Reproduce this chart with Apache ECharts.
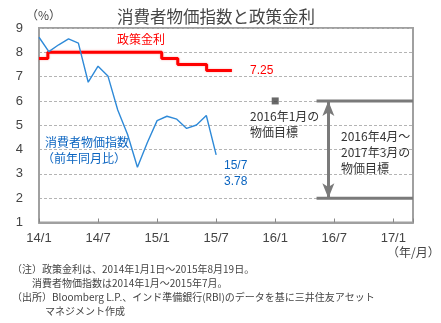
<!DOCTYPE html>
<html>
<head>
<meta charset="utf-8">
<script src="https://cdn.jsdelivr.net/npm/echarts@6/dist/echarts.min.js"></script>
<style>
  html, body { margin: 0; padding: 0; background: #fff; }
  #chart { width: 441px; height: 323px; }
</style>
</head>
<body>
<div id="chart"></div>
<script>
// Month index: 0 = 2014/1, 6 = 2014/7, ... 36 = 2017/1
const tickLabels = ['14/1', '14/7', '15/1', '15/7', '16/1', '16/7', '17/1'];

// India CPI (YoY, %), 2014/1 - 2015/7
const cpiMonths = [0, 1, 2, 3, 4, 5, 6, 7, 8, 9, 10, 11, 12, 13, 14, 15, 16, 17, 18];
const cpiValues = [8.62, 8.03, 8.31, 8.55, 8.38, 6.77, 7.43, 7.03, 5.63, 4.62, 3.27, 4.28, 5.19, 5.37, 5.25, 4.87, 5.01, 5.40, 3.78];

// RBI policy repo rate (%), change dates as month index, 2014/1/1 - 2015/8/19
const rateMonths = [0, 0.9, 12.47, 14.1, 17.03, 19.6];
const rateValues = [7.75, 8.0, 7.75, 7.5, 7.25, 7.25];

// Inflation targets
const targetJan2016 = [24, 6];
const bandMonths = [28.2, 38];
const bandLimits = [2, 6];
const bandArrowMonth = 29.4;

const JP = '"Noto Sans CJK JP", "Noto Sans", sans-serif';
const LAT = '"Liberation Sans", Arial, sans-serif';
const RED = '#ff0000';
const BLUE = '#2f8ad8';
const BLUE_TEXT = '#0a64c0';
const GREY = '#7a7a7a';

function txt(x, y, text, opts) {
  return {
    type: 'text', left: x, top: y, silent: true,
    style: Object.assign({ text: text, fill: '#333', font: '12px ' + JP }, opts || {})
  };
}

const chart = echarts.init(document.getElementById('chart'), null, { renderer: 'canvas' });

chart.setOption({
  animation: false,
  backgroundColor: '#fff',
  grid: {
    left: 39, right: 28, top: 28, bottom: 100.5,
    show: true, borderColor: '#a0a0a0', borderWidth: 2
  },
  title: {
    text: '消費者物価指数と政策金利',
    left: 112, top: 3,
    textStyle: { fontFamily: JP, fontSize: 16.5, fontWeight: 'normal', color: '#444' }
  },
  xAxis: {
    type: 'value', min: 0, max: 38, interval: 6,
    axisLine: { lineStyle: { color: '#a0a0a0', width: 2 } },
    axisTick: { show: true, inside: true, length: 4, lineStyle: { color: '#888' } },
    splitLine: { show: false },
    axisLabel: {
      margin: 9, color: '#444', fontFamily: LAT, fontSize: 13,
      formatter: v => (v % 6 === 0 && tickLabels[v / 6]) ? tickLabels[v / 6] : ''
    }
  },
  yAxis: {
    type: 'value', min: 1, max: 9, interval: 1,
    axisLine: { show: true, lineStyle: { color: '#a0a0a0', width: 2 } },
    axisTick: { show: false },
    splitLine: { show: true, lineStyle: { color: '#b4b4b4', type: [3, 2], width: 1 } },
    axisLabel: { margin: 16, color: '#444', fontFamily: LAT, fontSize: 13 }
  },
  series: [
    {
      name: '政策金利', type: 'line', step: 'end', symbol: 'none',
      data: rateMonths.map((m, i) => [m, rateValues[i]]),
      lineStyle: { color: RED, width: 3, shadowColor: 'rgba(255,80,80,0.5)', shadowBlur: 2 },
      z: 3
    },
    {
      name: '消費者物価指数', type: 'line', symbol: 'none',
      data: cpiMonths.map((m, i) => [m, cpiValues[i]]),
      lineStyle: { color: BLUE, width: 1.4 },
      z: 4
    },
    {
      name: '2016年1月の物価目標', type: 'scatter', symbol: 'rect', symbolSize: 7,
      data: [targetJan2016],
      itemStyle: { color: '#444' },
      z: 5
    },
    {
      name: '上限', type: 'line', symbol: 'none',
      data: bandMonths.map(m => [m, bandLimits[1]]),
      lineStyle: { color: GREY, width: 3 },
      z: 5
    },
    {
      name: '下限', type: 'line', symbol: 'none',
      data: bandMonths.map(m => [m, bandLimits[0]]),
      lineStyle: { color: GREY, width: 3 },
      markLine: {
        silent: true,
        symbol: ['arrow', 'arrow'],
        symbolSize: [9, 15],
        label: { show: false },
        lineStyle: { color: GREY, width: 3, type: 'solid' },
        data: [[{ coord: [bandArrowMonth, bandLimits[1]] }, { coord: [bandArrowMonth, bandLimits[0]] }]]
      },
      z: 5
    }
  ],
  graphic: [
    txt(26, 9, '（%）', { fill: '#444', font: '12px ' + JP }),
    txt(117, 33, '政策金利', { fill: RED, font: '12px ' + JP }),
    txt(250, 65, '7.25', { fill: RED, font: '12px ' + LAT }),
    txt(45, 136, '消費者物価指数', { fill: BLUE_TEXT, font: '12px ' + JP }),
    txt(42, 152, '（前年同月比）', { fill: BLUE_TEXT, font: '12px ' + JP }),
    txt(224, 160, '15/7', { fill: BLUE_TEXT, font: '12px ' + LAT }),
    txt(224, 176, '3.78', { fill: BLUE_TEXT, font: '12px ' + LAT }),
    txt(250, 110, '2016年1月の', { fill: '#333', font: '12px ' + JP }),
    txt(250, 126, '物価目標', { fill: '#333', font: '12px ' + JP }),
    txt(341, 130, '2016年4月～', { fill: '#333', font: '12px ' + JP }),
    txt(341, 146, '2017年3月の', { fill: '#333', font: '12px ' + JP }),
    txt(341, 162, '物価目標', { fill: '#333', font: '12px ' + JP }),
    txt(387, 246, '（年/月）', { fill: '#444', font: '12px ' + JP }),
    txt(12, 264, '（注）政策金利は、2014年1月1日～2015年8月19日。', { fill: '#444', font: '10px ' + JP }),
    txt(32, 278, '消費者物価指数は2014年1月～2015年7月。', { fill: '#444', font: '10px ' + JP }),
    txt(12, 292, '（出所）Bloomberg L.P.、インド準備銀行(RBI)のデータを基に三井住友アセット', { fill: '#444', font: '10px ' + JP }),
    txt(45, 306, 'マネジメント作成', { fill: '#444', font: '10px ' + JP })
  ]
});
</script>
</body>
</html>
